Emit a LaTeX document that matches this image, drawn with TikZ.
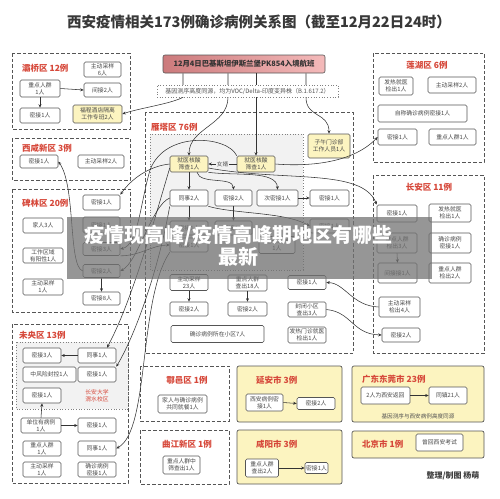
\documentclass[tikz,border=0pt]{standalone}
\usepackage{fontspec}
\setmainfont{Noto Sans CJK SC}
\usetikzlibrary{arrows.meta,positioning}
\definecolor{myred}{RGB}{214,72,58}
\definecolor{myyellow}{RGB}{252,244,192}
\definecolor{mygray}{RGB}{85,85,85}
\definecolor{myshade}{RGB}{242,242,242}
\definecolor{mypinkL}{RGB}{204,122,124}
\definecolor{mypinkR}{RGB}{244,186,186}

\begin{document}
\begin{tikzpicture}[x=1pt,y=-1pt,
  cbox/.style={draw=mygray,fill=white,rounded corners=1.5pt,line width=0.6pt,
    align=center,inner sep=0.5pt,font=\fontsize{5.8}{6.6}\selectfont,text=black!72,
    minimum width=38,minimum height=15},
  ybox/.style={cbox,fill=myyellow},
  dreg/.style={draw=mygray,line width=0.7pt,dash pattern=on 3.5pt off 2pt},
  creg/.style={draw=mygray,fill=myyellow,rounded corners=2pt,line width=0.7pt},
  sreg/.style={draw=gray,dotted,fill=myshade,line width=0.7pt},
  dname/.style={text=myred,font=\fontsize{8.5}{10}\selectfont\bfseries,inner sep=0pt},
  small/.style={font=\fontsize{5.6}{6.4}\selectfont,text=black!68,inner sep=0.5pt},
  link/.style={-{Stealth[length=3.5pt,width=3pt]},draw=black!80,line width=0.55pt}]

  \useasboundingbox (0,0) rectangle (500,498);

  \node[font=\fontsize{14.5}{17}\selectfont\bfseries,text=black!78] (title) at (259,22)
    {西安疫情相关173例确诊病例关系图（截至12月22日24时）};

  \node[draw=mygray,left color=mypinkL,right color=mypinkR,rounded corners=2pt,line width=0.6pt,
    minimum width=162,minimum height=18,font=\fontsize{7.4}{8}\selectfont\bfseries,text=black!80]
    (pk) at (244,64) {12月4日巴基斯坦伊斯兰堡PK854入境航班};

  % regions
  \draw[dreg] (12,53) rectangle (130,129);
  \draw[dreg] (12,138) rectangle (130,180);
  \draw[dreg] (12,189) rectangle (130,312);
  \draw[dreg] (12,324) rectangle (128,483);
  \draw[dreg] (145,112) rectangle (353,353);
  \draw[dreg] (373,53) rectangle (484,162);
  \draw[dreg] (373,175) rectangle (484,353);
  \draw[dreg] (140,366) rectangle (229,421);
  \draw[dreg] (140,430) rectangle (229,484);
  \draw[creg] (237,366) rectangle (342,422);
  \draw[creg] (237,430) rectangle (342,484);
  \draw[creg] (352,366) rectangle (484,422);
  \draw[creg] (352,431) rectangle (484,458);
  \draw[sreg] (150,134) rectangle (303,270);
  \draw[sreg] (16,342) rectangle (128,409);

  % 灞桥区
  \node[dname,anchor=west] (bqname) at (22,68) {灞桥区 12例};
  \node[cbox,minimum width=37] (bq1) at (102.5,69.5) {主动采样\\6人};
  \node[cbox,minimum width=40,minimum height=17] (bq2) at (40,88.5) {重点人群\\1人};
  \node[cbox,minimum width=37,minimum height=14] (bq3) at (102.5,90) {间接2人};
  \node[cbox,minimum width=40] (bq4) at (40,115.5) {密接1人};
  \node[ybox,minimum width=49,minimum height=18] (bq5) at (97.5,114) {福程酒店隔离\\工作专班2人};

  % 西咸新区
  \node[dname,anchor=west] (xxname) at (22,148) {西咸新区 3例};
  \node[cbox,minimum height=13] (xx1) at (39,161.5) {密接1人};
  \node[cbox,minimum width=46,minimum height=13] (xx2) at (101,161.5) {主动采样2人};

  % 碑林区
  \node[dname,anchor=west] (blname) at (22,203) {碑林区 20例};
  \node[cbox,minimum width=40] (bl1) at (43,225.5) {家人3人};
  \node[cbox,minimum width=40] (bl2) at (43,255.5) {工作区域\\有阳性1人};
  \node[cbox,minimum width=40,minimum height=16] (bl3) at (43,287) {主动采样\\1人};
  \node[cbox,minimum width=37] (bl4) at (101.5,202.5) {密接1人};
  \node[cbox,minimum width=37,minimum height=16] (bl5) at (101.5,225) {密接1人};
  \node[cbox,minimum width=37,minimum height=13] (bl6) at (101.5,249) {密接3人};
  \node[cbox,minimum width=37,minimum height=13] (bl7) at (101.5,271) {密接2人};
  \node[cbox,minimum width=37,minimum height=13] (bl8) at (101.5,298.5) {密接8人};

  % 未央区
  \node[dname,anchor=west] (wyname) at (19,335) {未央区 13例};
  \node[cbox] (wy1) at (42,355.5) {密接3人};
  \node[cbox] (wy2) at (97,355.5) {同事1人};
  \node[cbox,minimum width=53] (wy3) at (49.5,374.5) {中风险封控1人};
  \node[cbox] (wy4) at (97,374.5) {密接1人};
  \node[cbox] (wy5) at (42,395.5) {密接1人};
  \node[text=myred,align=center,font=\fontsize{5.8}{6.8}\selectfont] (campus) at (97,396) {长安大学\\渭水校区};
  \node[cbox,minimum width=40] (wy6) at (41,425.5) {单位有病例\\1人};
  \node[cbox] (wy7) at (97,425.5) {密接1人};
  \node[cbox] (wy8) at (42,448.5) {重点人群\\1人};
  \node[cbox] (wy9) at (97,448.5) {同事1人};
  \node[cbox] (wy10) at (42,469.5) {主动采样\\1人};
  \node[cbox] (wy11) at (97,469.5) {确诊病例\\密接1人};

  % 雁塔区
  \node[dname,anchor=west] (ytname) at (151,127) {雁塔区 76例};
  \node[ybox,minimum height=16] (yt1) at (189,164) {就医核酸\\筛查1人};
  \node[ybox,minimum height=16] (yt2) at (256,164) {就医核酸\\筛查1人};
  \node[ybox,minimum width=42,minimum height=24] (yt3) at (329,146) {子午门诊部\\工作人员1人};
  \node[cbox,minimum height=16] (yt4) at (189,198) {同事2人};
  \node[cbox,minimum width=37,minimum height=16] (yt5) at (233.5,198) {密接2人};
  \node[cbox,minimum width=41,minimum height=16] (yt6) at (277.5,198) {次密接1人};
  \node[cbox,minimum width=39,minimum height=16] (yt7) at (329.5,198) {密接1人};
  \node[cbox,minimum height=14] (yt8) at (189,228) {密接1人};
  \node[cbox,minimum width=37,minimum height=14] (yt9) at (233.5,228) {密接1人};
  \node[cbox,minimum width=39,minimum height=14] (yt10) at (329.5,226) {密接1人};
  \node[cbox,minimum height=14] (yt11) at (189,245) {密接1人};
  \node[cbox,minimum width=36,minimum height=17] (yt12) at (277,245) {主动采样\\1人};
  \node[cbox,minimum height=16] (yt13) at (189,282.5) {主动采样\\23人};
  \node[cbox,minimum width=39,minimum height=16] (yt14) at (247.5,283) {重点人群\\查出18人};
  \node[cbox,minimum height=14] (yt15) at (307,282.5) {密接1人};
  \node[cbox,minimum height=14] (yt16) at (189,309) {密接2人};
  \node[cbox,minimum width=39,minimum height=14] (yt17) at (247.5,309) {密接2人};
  \node[cbox,minimum height=15] (yt18) at (307,309.5) {封闭小区\\查出3人};
  \node[cbox,minimum width=93,minimum height=17] (yt19) at (217.5,334) {确诊病例所在小区7人};
  \node[cbox,minimum height=16] (yt20) at (307,335) {发热门诊就医\\检出1人};

  % 莲湖区
  \node[dname] (lhname) at (427,65) {莲湖区 6例};
  \node[cbox,minimum width=34,minimum height=18] (lh1) at (396,86) {发热就医\\检出1人};
  \node[cbox,minimum width=48,minimum height=16] (lh2) at (452,85) {主动采样2人};
  \node[cbox,minimum width=89,minimum height=17] (lh3) at (422.5,113.5) {自称确诊病例密接1人};
  \node[cbox,minimum width=39,minimum height=16] (lh4) at (397.5,137) {密接1人};
  \node[cbox,minimum width=47,minimum height=16] (lh5) at (452.5,137) {重点人群1人};

  % 长安区
  \node[dname] (caname) at (429,187) {长安区 11例};
  \node[cbox,minimum width=40,minimum height=17] (ca1) at (397,213.5) {密接1人};
  \node[cbox,minimum width=42,minimum height=18] (ca2) at (450,213) {发热就医\\检出1人};
  \node[cbox,minimum width=40,minimum height=20] (ca3) at (397,243) {重点人群\\检出3人};
  \node[cbox,minimum width=42,minimum height=20] (ca4) at (450,243) {确诊病例\\密接1人};
  \node[cbox,minimum width=39,minimum height=20] (ca5) at (397.5,273) {间接接1人};
  \node[cbox,minimum width=42,minimum height=20] (ca6) at (450,273) {重点人群\\检出2人};
  \node[cbox,minimum width=41,minimum height=20] (ca7) at (399.5,307) {主动采样\\检出4人};
  \node[cbox,minimum height=14] (ca8) at (401,335) {密接2人};

  % 鄠邑区, 曲江新区
  \node[dname] (hyname) at (187,380) {鄠邑区 1例};
  \node[cbox,minimum width=49,minimum height=18] (hy1) at (182.5,404) {家人与确诊病例\\共同就餐1人};
  \node[dname] (qjname) at (187,444) {曲江新区 1例};
  \node[cbox,minimum width=37,minimum height=18] (qj1) at (181.5,465) {重点人群中\\筛查出1人};

  % other cities
  \node[dname,anchor=west] (yaname) at (256,380) {延安市 3例};
  \node[cbox,minimum width=37,minimum height=17] (ya1) at (264.5,402.5) {西安病例密\\接1人};
  \node[cbox,minimum width=38,minimum height=12] (ya2) at (316,403.5) {密接2人};
  \node[dname,anchor=west] (xyname) at (256,444) {咸阳市 3例};
  \node[cbox,minimum width=33,minimum height=18] (xy1) at (262,468) {重点人群\\查出2人};
  \node[cbox,minimum width=23,minimum height=11] (xy2) at (316.5,468) {密接1人};
  \node[dname,anchor=west] (gdname) at (362,379) {广东东莞市 23例};
  \node[cbox,minimum width=49,minimum height=17] (gd1) at (385.5,395.5) {2人为西安返回};
  \node[cbox,minimum width=38,minimum height=17] (gd2) at (448,395.5) {同镇21人};
  \node[small] (gdnote) at (418,416) {基因测序与西安病例高度同源};
  \node[dname,anchor=west] (bjname) at (362,444) {北京市 1例};
  \node[cbox,minimum width=47,minimum height=17] (bj1) at (439.5,442.5) {曾回西安考试};

  \node[font=\fontsize{8}{9}\selectfont\bfseries,text=black!75] (credit) at (453,476) {整理/制图 杨萌};

  % links from the flight
  \draw[link] ([xshift=-16]pk.south) -- ++(0,24) .. controls (228,125) and (189,128) .. (yt1.north);
  \draw[link] (pk.south -| yt2.north) -- (yt2.north);
  \draw[link] ([xshift=62]pk.south) -- ++(0,24) .. controls (306,118) and (329,112) .. (yt3.north);
  \draw[link] ([xshift=-61]pk.south) -- ++(0,24) .. controls (170,104) and (140,108) .. (bq5.east);
  \node[draw=gray,dotted,line width=0.7pt,fill=white,minimum width=181,minimum height=12,
    font=\fontsize{6}{7}\selectfont,text=black!68,inner sep=0.5pt] (note) at (247.5,91)
    {基因测序高度同源，均为VOC/Delta-印度变异株（B.1.617.2）};

  % links inside 雁塔区
  \draw[link] (yt2.west) -- node[fill=myshade,small] (nxu) {女婿} (yt1.east);
  \draw[link] (yt1.south) -- (yt4.north);
  \draw[link] ([xshift=8]yt1.south) .. controls (200,185) and (233,176) .. (yt5.north);
  \draw[link] (yt1.south east) .. controls (235,176) and (277,170) .. (yt6.north);
  \draw[link] (yt6.east) -- (yt7.west);
  \draw[link] (yt4.south) -- (yt8.north);
  \draw[link] (yt5.south) -- (yt9.north);
  \draw[link] (yt4.south east) .. controls (235,214) and (285,212) .. (yt10.west);
  \draw[link] (yt13.south) -- (yt16.north);
  \draw[link] (yt14.south) -- (yt17.north);

  % links to the right
  \draw[link] ([yshift=-4]yt1.east) .. controls (285,182) and (362,168) .. (ca1.north west);
  \draw[link] (yt2.east) .. controls (300,166) and (350,166) .. (lh4.west);
  \draw[link] (ca7.west) .. controls (352,306) and (345,283) .. (yt15.east);
  \draw[link] (yt18.east) .. controls (352,312) and (352,334) .. (ca8.west);

  % links to the left
  \draw[link] (yt1.west) .. controls (150,166) and (132,178) .. (bl4.north east);
  \draw[link] (yt2.north west) .. controls (228,136) and (165,130) .. (150,170)
    .. controls (140,205) and (138,245) .. (bl6.east);
  \draw[link] (yt4.west) .. controls (152,205) and (138,262) .. (bl7.east);
  \draw[link] (bl6.south east) .. controls (140,256) and (152,245) .. (yt11.west);
  \draw[link] (bl7.west) .. controls (68,266) and (76,186) .. (xx1.east);
  \draw[link] ([yshift=-4]yt1.west) .. controls (150,235) and (130,305) .. ([xshift=10]wy2.north);
  \draw[link] (yt4.south west) .. controls (160,262) and (138,330) .. (wy4.north east);
  \draw[link] (yt11.south west) .. controls (138,300) and (150,430) .. (wy9.east);

  % links inside districts
  \draw[link] (bq2.east) -- (bq3.west);
  \draw[link] (bq2.south) -- (bq4.north);
  \draw[link] (bl7.south) -- (bl8.north);
  \draw[link] (ca3.south) -- (ca5.north);
  \draw[link] (wy2.west) -- (wy1.east);
  \draw[link] (wy6.north) -- (wy5.south);
  \draw[link] (wy6.east) -- (wy7.west);
  \draw[link] (ya1.east) -- (ya2.west);
  \draw[link] (xy1.east) -- (xy2.west);
  \draw[link] (gd1.east) -- (gd2.west);

  % banner over the picture
  \fill[black!55,opacity=0.75] (67,217) rectangle (432,279);
  \node[text=white,align=center,font=\fontsize{20}{22}\selectfont\bfseries] (banner) at (238.5,246)
    {疫情现高峰/疫情高峰期地区有哪些\\最新};

\end{tikzpicture}
\end{document}
